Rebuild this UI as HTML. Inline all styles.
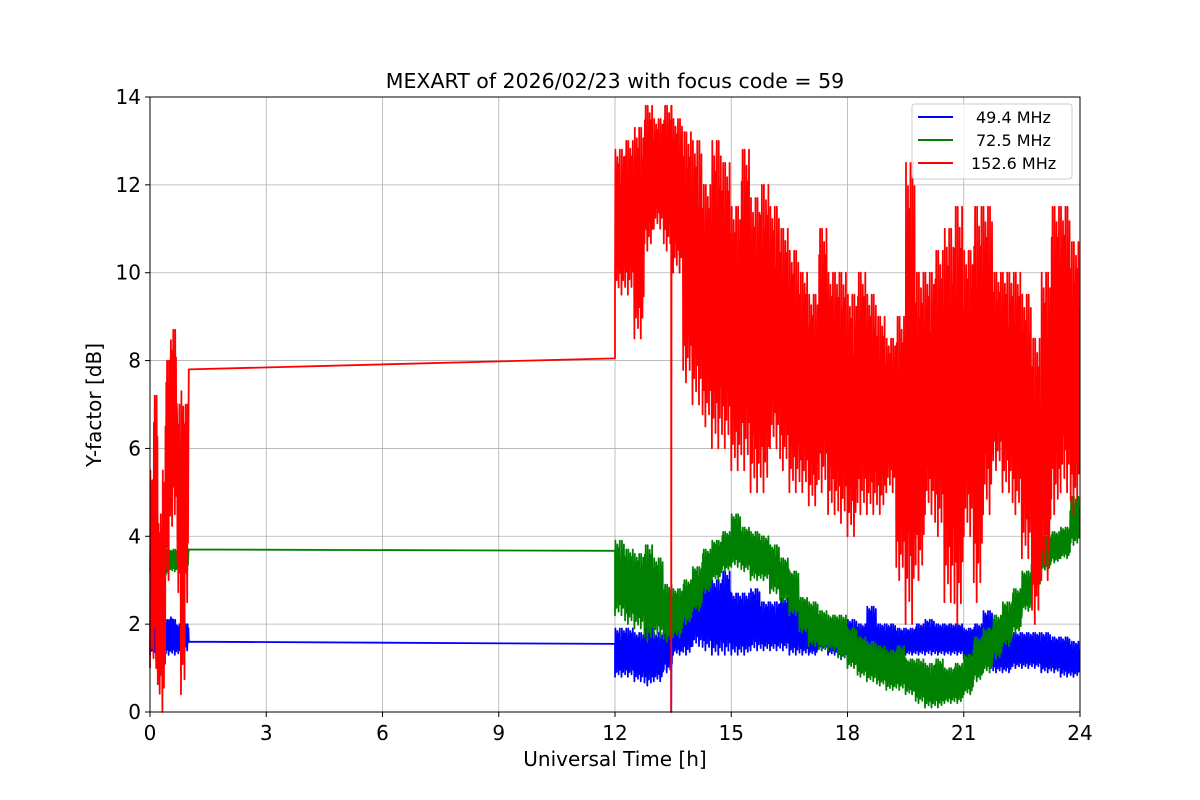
<!DOCTYPE html>
<html><head><meta charset="utf-8"><style>
body{margin:0;background:#fff;}
svg{display:block;font-family:"DejaVu Sans","Liberation Sans",sans-serif;}
</style></head><body>
<svg id="chart" width="1200" height="800" viewBox="0 0 1200 800">
<rect width="1200" height="800" fill="#fff"/>
<text x="615" y="88" font-size="20.5" text-anchor="middle">MEXART of 2026/02/23 with focus code = 59</text>
<g id="grid"></g>
<g id="plot"></g>
<rect x="150" y="97" width="930" height="615" fill="none" stroke="#000" stroke-width="1"/>
<g id="xticks"></g><g id="yticks"></g>
<text x="615" y="766" font-size="20" text-anchor="middle">Universal Time [h]</text>
<text transform="translate(101,405) rotate(-90)" font-size="20" text-anchor="middle">Y-factor [dB]</text>
<g>
<rect x="912" y="104" width="160" height="75" rx="3" fill="#fff" fill-opacity="0.8" stroke="#ccc"/>
<line x1="918" y1="117" x2="953" y2="117" stroke="#0000ff" stroke-width="2"/>
<text x="976" y="123" font-size="16">49.4 MHz</text>
<line x1="918" y1="140" x2="953" y2="140" stroke="#008000" stroke-width="2"/>
<text x="976" y="146" font-size="16">72.5 MHz</text>
<line x1="918" y1="163" x2="953" y2="163" stroke="#ff0000" stroke-width="2"/>
<text x="971" y="169" font-size="16">152.6 MHz</text>
</g>
</svg>
<script>
const xTicks=[0,3,6,9,12,15,18,21,24];
const yTicks=[0,2,4,6,8,10,12,14];
const redEarly=[[1,5.5],[1,7.2],[0.2,4.5],[0,5.5],[3,8],[4,8.7],[4.5,8.7],[2.5,7],[0.4,7.3],[2.5,7]];
const greenEarly=[[3.2,3.7],[3.1,3.7],[3.2,3.7],[3.2,3.7],[3.1,3.7],[3.2,3.7],[3.2,3.7],[3.2,3.7],[3.2,3.7],[3.2,3.7]];
const blueEarly=[[1.3,2.2],[1.2,2.3],[1.3,2.1],[1.3,2.2],[1.3,2.1],[1.3,2.2],[1.3,2.1],[1.3,2.0],[1.3,2.1],[1.4,2.0]];
const redGap=[1.0,7.8,12.0,8.05];
const greenGap=[1.0,3.7,12.0,3.67];
const blueGap=[1.0,1.6,12.0,1.55];
const redLate=[[9.5,12.8],[9.5,13],[8.5,13.3],[10.5,13.8],[11,13.5],[10.5,13.8],[10,13.5],[7.5,13.2],[7,13],[6.5,12],[6,13],[6,12.5],[5.5,11.5],[5.5,12.8],[5,11.7],[5,12],[6,11.5],[5.5,11],[5,10.5],[5,10],[4.7,9.5],[5,11],[4.5,10],[4.3,10],[4,9.5],[4.5,10],[4.5,9.5],[4.5,9],[5,8.5],[3,9],[2,12.5],[3,10],[4.5,10],[4,10.5],[2.5,11],[2,11.5],[4,10.5],[2.5,11.5],[4.5,11.5],[5.5,10],[5,10],[4.5,10],[3.5,9.5],[2,8.5],[3,10],[4.5,11.5],[5,11.5],[4.5,10.7]];
const greenLate=[[2.2,3.9],[2,3.7],[1.9,3.6],[1.6,3.8],[1.7,3.5],[1.6,2.9],[1.7,2.8],[2,3],[2.3,3.3],[2.7,3.7],[3,3.9],[3.2,4.1],[3.3,4.5],[3.2,4.2],[3,4.1],[3,4],[2.7,3.8],[2.5,3.5],[2.2,3.2],[1.8,2.6],[1.5,2.5],[1.4,2.3],[1.4,2.2],[1.2,2.2],[1,1.9],[0.8,1.7],[0.7,1.6],[0.6,1.5],[0.5,1.4],[0.5,1.5],[0.4,1.2],[0.2,1.2],[0.1,1.1],[0.1,1.2],[0.2,1],[0.2,1.1],[0.4,1.3],[0.7,1.7],[0.9,1.9],[1.2,2.2],[1.5,2.5],[1.8,2.8],[2.3,3.2],[2.8,3.6],[3.2,4],[3.4,4.1],[3.5,4.2],[3.8,4.9]];
const blueLate=[[0.8,1.9],[0.8,1.9],[0.7,1.8],[0.6,2],[0.7,1.8],[0.9,2.2],[1.3,2.2],[1.3,2.6],[1.5,3],[1.4,3],[1.3,3],[1.3,3.2],[1.3,2.7],[1.3,2.7],[1.4,2.8],[1.4,2.5],[1.4,2.5],[1.4,2.6],[1.3,2.5],[1.3,2.3],[1.3,2],[1.4,2],[1.3,2],[1.2,2],[1.2,2.1],[1.2,2],[1.3,2.4],[1.3,2],[1.2,2],[1.2,1.9],[1.3,1.9],[1.3,2],[1.3,2.1],[1.3,2],[1.3,2],[1.3,2],[1.2,1.9],[1.2,2],[1.2,2.3],[0.9,1.8],[0.9,1.7],[1,1.8],[1,1.8],[1,1.8],[0.9,1.8],[0.9,1.7],[0.8,1.7],[0.8,1.6]];
const redSpikes=[[13.45,0]];
const blueSpikes=[[13.45,0]];

const X0=150,X1=1080,Y0=712,Y1=97;
const xs=h=>X0+(h/24)*(X1-X0);
const ys=v=>Y0-(v/14)*(Y0-Y1);
const NS="http://www.w3.org/2000/svg";
function mk(tag,parent,attrs){const e=document.createElementNS(NS,tag);for(const k in attrs)e.setAttribute(k,attrs[k]);parent.appendChild(e);return e;}
const grid=document.getElementById('grid'),plot=document.getElementById('plot');
const xt=document.getElementById('xticks'),yt=document.getElementById('yticks');
xTicks.forEach(t=>{
  const l=mk('line',grid,{x1:xs(t),x2:xs(t),y1:Y1,y2:Y0,stroke:'#b0b0b0','stroke-width':0.8});
  
  
  mk('line',xt,{x1:xs(t),x2:xs(t),y1:Y0,y2:Y0+5,stroke:'#000'});
  const tx=mk('text',xt,{x:xs(t),y:Y0+28,'font-size':20,'text-anchor':'middle'});
  tx.textContent=t;
  
  
});
yTicks.forEach(t=>{
  const l=mk('line',grid,{x1:X0,x2:X1,y1:ys(t),y2:ys(t),stroke:'#b0b0b0','stroke-width':0.8});
  
  
  mk('line',yt,{x1:X0-5,x2:X0,y1:ys(t),y2:ys(t),stroke:'#000'});
  const tx=mk('text',yt,{x:X0-9,y:ys(t)+7,'font-size':20,'text-anchor':'end'});
  tx.textContent=t;
  
  
});
const pat=[0,1,0.3,0.85,0.1,0.6,0.95,0.2,0.7,0.05,0.9,0.4,1,0.15,0.75,0.35];
function noisePts(bins,start,step,sub){
  const pts=[];let p=0;
  bins.forEach((b,i)=>{
    for(let j=0;j<sub;j++){
      const h=start+i*step+step*j/sub;
      const f=pat[p%pat.length];p++;
      pts.push([h,b[0]+(b[1]-b[0])*f]);
    }
  });
  return pts;
}
function series(early,gap,late,spikes,color,name){
  let pts=noisePts(early,0,0.1,10);
  pts.push([gap[0],gap[1]]);pts.push([gap[2],gap[3]]);
  let lp=noisePts(late,12,0.25,24);
  spikes.forEach(s=>{
    let idx=lp.findIndex(q=>q[0]>=s[0]);
    if(idx>=0){lp.splice(idx,0,[s[0],lp[idx][1]],[s[0],s[1]],[s[0]+0.01,lp[idx][1]]);}
  });
  pts=pts.concat(lp);
  const d='M'+pts.map(q=>xs(q[0]).toFixed(1)+','+ys(q[1]).toFixed(1)).join('L');
  const path=mk('path',plot,{d:d,fill:'none',stroke:color,'stroke-width':1.8,'stroke-linejoin':'round'});
  
  
}
series(blueEarly,blueGap,blueLate,blueSpikes,'#0000ff','series-49-4-mhz');
series(greenEarly,greenGap,greenLate,[],'#008000','series-72-5-mhz');
series(redEarly,redGap,redLate,redSpikes,'#ff0000','series-152-6-mhz');
</script>
</body></html>
